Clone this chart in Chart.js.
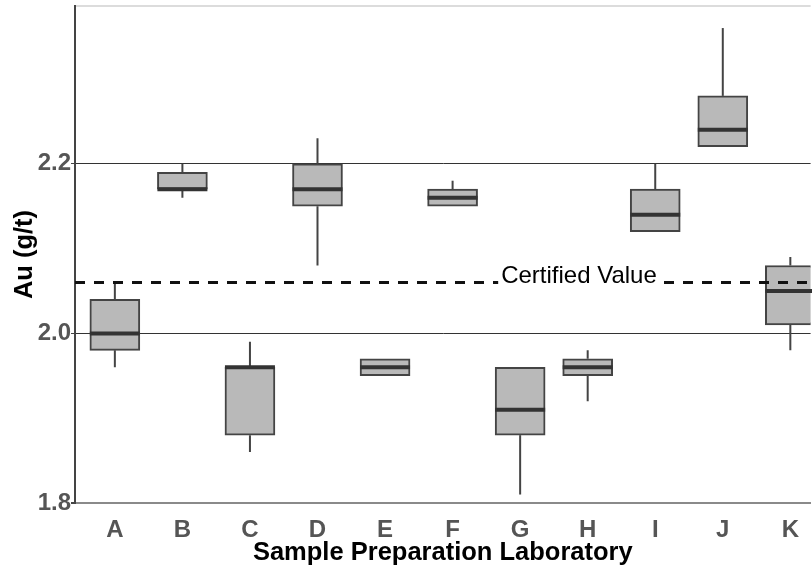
<!DOCTYPE html>
<html>
<head>
<meta charset="utf-8">
<script src="https://cdn.jsdelivr.net/npm/chart.js@4"></script>
<style>
    html, body { margin: 0; padding: 0; background: #fff; }
    #box { width: 812px; height: 568px; }
</style>
</head>
<body>
<div id="box"><canvas id="myChart"></canvas></div>
<script>
const laboratorios = ["A", "B", "C", "D", "E", "F", "G", "H", "I", "J", "K"];
const minimo  = [1.96, 2.16, 1.86, 2.08, 1.95, 2.15, 1.81, 1.92, 2.12, 2.22, 1.98];
const q1      = [1.98, 2.17, 1.88, 2.15, 1.95, 2.15, 1.88, 1.95, 2.12, 2.22, 2.01];
const mediana = [2.00, 2.17, 1.96, 2.17, 1.96, 2.16, 1.91, 1.96, 2.14, 2.24, 2.05];
const q3      = [2.04, 2.19, 1.96, 2.20, 1.97, 2.17, 1.96, 1.97, 2.17, 2.28, 2.08];
const maximo  = [2.06, 2.20, 1.99, 2.23, 1.97, 2.18, 1.96, 1.98, 2.20, 2.36, 2.09];
const yTicks = [1.8, 2.0, 2.2];
const valorCertificado = 2.06;
const textoCertificado = "Certified Value";

const fonte = "'Liberation Sans', Arial, sans-serif";
const yMax = 2.386;

// whiskers + median lines, then the certified value line on top
const boxPlugin = {
    id: "boxExtras",
    afterDatasetsDraw(chart) {
        const ctx = chart.ctx;
        const x = chart.scales.x;
        const y = chart.scales.y;
        const meia = 25;
        ctx.save();
        for (let i = 0; i < laboratorios.length; i++) {
            let px = x.getPixelForValue(i);
            ctx.strokeStyle = "#444";
            ctx.lineWidth = 2;
            ctx.beginPath();
            if (maximo[i] > q3[i]) {
                ctx.moveTo(px, y.getPixelForValue(maximo[i]));
                ctx.lineTo(px, y.getPixelForValue(q3[i]));
            }
            if (minimo[i] < q1[i]) {
                ctx.moveTo(px, y.getPixelForValue(q1[i]));
                ctx.lineTo(px, y.getPixelForValue(minimo[i]));
            }
            ctx.stroke();
            ctx.strokeStyle = "#333";
            ctx.lineWidth = 4;
            ctx.beginPath();
            let py = y.getPixelForValue(mediana[i]);
            ctx.moveTo(px - meia, py);
            ctx.lineTo(px + meia, py);
            ctx.stroke();
        }

        let area = chart.chartArea;
        let yc = y.getPixelForValue(valorCertificado);
        ctx.strokeStyle = "#111";
        ctx.lineWidth = 3;
        ctx.setLineDash([10, 9]);
        ctx.beginPath();
        ctx.moveTo(area.left, yc);
        ctx.lineTo(area.right, yc);
        ctx.stroke();
        ctx.setLineDash([]);

        ctx.font = "24px " + fonte;
        let larg = ctx.measureText(textoCertificado).width;
        let cx = 579;
        ctx.fillStyle = "#fff";
        ctx.fillRect(cx - larg / 2 - 3, yc - 20, larg + 6, 24);
        ctx.fillStyle = "#000";
        ctx.textAlign = "center";
        ctx.textBaseline = "alphabetic";
        ctx.fillText(textoCertificado, cx, yc + 1);
        ctx.restore();
    }
};

function plotarGrafico() {
    const data = {
        datasets: [
            {
                label: "Au",
                data: laboratorios.map((l, i) => ({ x: i, y: [q1[i], q3[i]] })),
                backgroundColor: "#b9b9b9",
                borderColor: "#444",
                borderWidth: 2,
                borderSkipped: false,
                barThickness: 50,
            },
        ],
    };
    const config = {
        type: "bar",
        data,
        plugins: [boxPlugin],
        options: {
            responsive: false,
            animation: false,
            layout: { padding: { top: 0, right: 0, left: 0, bottom: 0 } },
            plugins: {
                legend: { display: false },
                tooltip: { enabled: false },
            },
            scales: {
                x: {
                    type: "linear",
                    offset: false,
                    min: -0.59,
                    max: 10.3,
                    afterBuildTicks: s => { s.ticks = laboratorios.map((l, i) => ({ value: i })); },
                    afterFit: s => { s.height = 65; },
                    grid: { display: false, drawTicks: false },
                    border: { color: "#8a8a8a", width: 2 },
                    ticks: {
                        autoSkip: false,
                        maxRotation: 0,
                        padding: 13,
                        color: "#555",
                        font: { family: fonte, size: 24, weight: "bold" },
                        callback: v => laboratorios[v],
                    },
                    title: {
                        display: true,
                        text: "Sample Preparation Laboratory",
                        color: "#000",
                        font: { family: fonte, size: 25.5, weight: "bold" },
                        padding: { top: 0, bottom: 0 },
                    },
                },
                y: {
                    min: 1.8,
                    max: yMax,
                    afterBuildTicks: s => { s.ticks = yTicks.concat([yMax]).map(v => ({ value: v })); },
                    afterFit: s => { s.width = 75; },
                    grid: {
                        color: c => c.tick.value > 2.3 ? "#dcdcdc" : (c.tick.value < 1.9 ? "#8a8a8a" : "#333"),
                        lineWidth: c => c.tick.value > 2.3 || c.tick.value < 1.9 ? 2 : 1,
                        tickColor: c => c.tick.value > 2.3 ? "rgba(0,0,0,0)" : "#444",
                        tickLength: 4,
                    },
                    border: { color: "#444", width: 2 },
                    ticks: {
                        padding: 0,
                        color: "#555",
                        font: { family: fonte, size: 24, weight: "bold", lineHeight: 0.5 },
                        callback: v => v > 2.3 ? "" : v.toFixed(1),
                    },
                    title: {
                        display: true,
                        text: "Au (g/t)",
                        color: "#000",
                        font: { family: fonte, size: 25.5, weight: "bold" },
                        padding: { top: 10, bottom: 0 },
                    },
                },
            },
        },
    };
    const canvas = document.getElementById("myChart");
    canvas.width = 812;
    canvas.height = 568;
    const myChart = new Chart(canvas.getContext("2d"), config);
}

plotarGrafico();
</script>
</body>
</html>
